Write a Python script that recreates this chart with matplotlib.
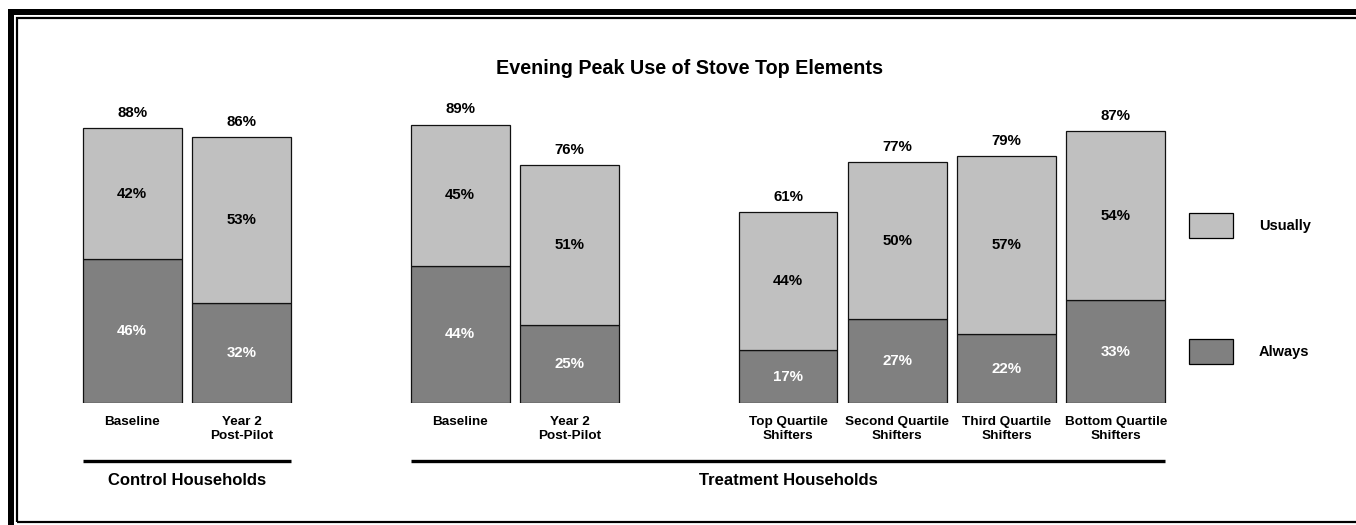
import matplotlib.pyplot as plt
from matplotlib.patches import Rectangle

plt.rcParams['font.family'] = ['Liberation Sans', 'DejaVu Sans']
plt.rcParams['font.weight'] = 'bold'

# data
categories = ["Baseline", "Year 2\nPost-Pilot",
              "Baseline", "Year 2\nPost-Pilot",
              "Top Quartile\nShifters", "Second Quartile\nShifters",
              "Third Quartile\nShifters", "Bottom Quartile\nShifters"]
slots = [0, 1, 3, 4, 6, 7, 8, 9]
always = [46, 32, 44, 25, 17, 27, 22, 33]
usually = [42, 53, 45, 51, 44, 50, 57, 54]
totals = ["88%", "86%", "89%", "76%", "61%", "77%", "79%", "87%"]
groups = ["Control Households", "Treatment Households"]
group_slots = [(0, 1), (3, 9)]

light = "#C0C0C0"
dark = "#808080"
W, H = 1356, 525
width = 0.905

fig = plt.figure(figsize=(W / 100, H / 100), dpi=100)
ax = fig.add_axes([60 / W, 1 - 403.3 / H, 1120 / W, 313 / H])
ax.set_xlim(-0.6606, 9.5864)
ax.set_ylim(0, 100)
for s in ax.spines.values():
    s.set_visible(False)
ax.set_yticks([])

ax.bar(slots, always, width, color=dark, edgecolor="#111111", linewidth=0.9)
ax.bar(slots, usually, width, bottom=always, color=light, edgecolor="#111111", linewidth=0.9)

for x, a, u, t in zip(slots, always, usually, totals):
    ax.text(x, a / 2, f"{a}%", ha="center", va="center", color="white", fontsize=10.8)
    ax.text(x, a + u / 2, f"{u}%", ha="center", va="center", color="black", fontsize=10.8)
    ax.annotate(t, (x, a + u), xytext=(0, 11), textcoords="offset points",
                ha="center", va="center", fontsize=10.8)

ax.set_xticks(slots)
ax.set_xticklabels(categories, fontsize=9.7, fontweight="bold")
ax.tick_params(axis="x", length=0, pad=9.5)

# group underlines and labels
for name, (a, b) in zip(groups, group_slots):
    x0, x1 = a - width / 2, b + width / 2
    ax.plot([x0, x1], [-18.4, -18.4], color="black", lw=2.4, clip_on=False,
            solid_capstyle="butt")
    ax.text((x0 + x1) / 2, -24.8, name, ha="center", va="center", fontsize=12)

fig.text(690 / W, 1 - 69 / H, "Evening Peak Use of Stove Top Elements",
         ha="center", va="center", fontsize=14.2, fontweight="bold")

# legend drawn by hand
for label, col, ytop in [("Usually", light, 213.3), ("Always", dark, 339.3)]:
    fig.add_artist(Rectangle((1189 / W, 1 - (ytop + 24.5) / H), 43.7 / W, 24.5 / H,
                             transform=fig.transFigure, facecolor=col,
                             edgecolor="black", linewidth=0.9))
    fig.text(1258.7 / W, 1 - (ytop + 12.5) / H, label, ha="left", va="center",
             fontsize=10.5, fontweight="bold")

# double frame
fig.add_artist(Rectangle((11 / W, -0.05), 2, 1 - 12 / H + 0.05, transform=fig.transFigure,
                         fill=False, edgecolor="black", linewidth=6 * 0.72))
fig.add_artist(Rectangle((17 / W, 1 - 522 / H), 2, (522 - 18) / H, transform=fig.transFigure,
                         fill=False, edgecolor="black", linewidth=2.2 * 0.72))

fig.savefig("out.png", dpi=100)
